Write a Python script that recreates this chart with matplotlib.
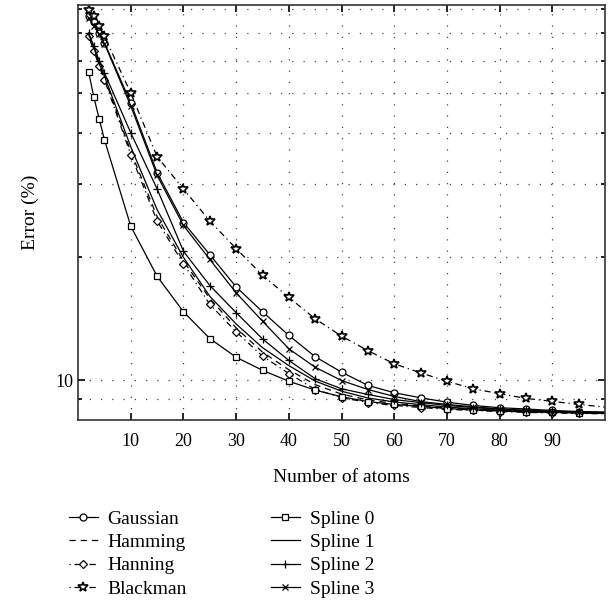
import matplotlib.pyplot as plt
from matplotlib.ticker import FixedLocator, NullFormatter, FixedFormatter

plt.rcParams['font.family'] = ['Liberation Serif', 'DejaVu Serif']

atoms = [2, 3, 4, 5, 10, 15, 20, 25, 30, 35, 40, 45, 50, 55, 60, 65, 70, 75, 80, 85, 90, 95, 100]

gaussian = [76.9, 74.4, 70.0, 66.3, 47.3, 32.0, 24.2, 20.2, 16.86, 14.67, 12.85, 11.40,
            10.46, 9.71, 9.32, 9.06, 8.84, 8.68, 8.57, 8.51, 8.44, 8.39, 8.37]
hamming = [69, 64, 58.5, 54.5, 36, 25, 19.5, 15.8, 13.4, 11.7, 10.6, 9.75,
           9.25, 8.95, 8.78, 8.66, 8.56, 8.49, 8.43, 8.39, 8.36, 8.33, 8.31]
hanning = [68.7, 63.4, 58.1, 53.9, 35.4, 24.4, 19.2, 15.29, 13.11, 11.44, 10.38, 9.49,
           9.07, 8.82, 8.68, 8.58, 8.49, 8.44, 8.39, 8.35, 8.32, 8.30, 8.28]
blackman = [79.8, 76.9, 72.7, 68.7, 50.0, 35.0, 29.2, 24.4, 20.9, 18.0, 15.9, 14.1,
            12.8, 11.8, 10.96, 10.42, 9.94, 9.53, 9.27, 9.03, 8.88, 8.73, 8.60]
spline0 = [56.3, 48.8, 43.3, 38.5, 23.7, 17.9, 14.67, 12.63, 11.37, 10.57, 9.94, 9.46,
           9.11, 8.87, 8.73, 8.63, 8.53, 8.46, 8.41, 8.37, 8.35, 8.32, 8.30]
spline1 = [69.5, 64.5, 59, 55, 37, 26, 19.9, 16.0, 13.7, 12.0, 10.85, 9.95,
           9.4, 9.05, 8.85, 8.72, 8.6, 8.52, 8.45, 8.40, 8.36, 8.33, 8.31]
spline2 = [70, 65, 60, 56, 40.0, 29.2, 20.6, 17.0, 14.6, 12.6, 11.17, 10.08,
           9.53, 9.23, 8.97, 8.82, 8.68, 8.58, 8.50, 8.44, 8.40, 8.36, 8.33]
spline3 = [76.0, 73.0, 69.5, 66.0, 46.5, 31.5, 23.8, 19.67, 16.31, 13.92, 11.92, 10.75,
           9.98, 9.49, 9.13, 8.87, 8.73, 8.61, 8.51, 8.44, 8.39, 8.35, 8.32]

x_ticks = [10, 20, 30, 40, 50, 60, 70, 80, 90]
y_grid = [9, 10, 20, 30, 40, 50, 60, 70, 80]

fig = plt.figure(figsize=(6.1, 6.0), dpi=100)
ax = fig.add_axes([0.128, 0.30, 0.864, 0.692])

lw = 0.9
dashdot = (0, (1, 3, 5, 3))
# no marker on the last point (it sits on the right frame)
every = slice(0, len(atoms) - 1)

ax.plot(atoms, gaussian, color='black', lw=lw, marker='o', ms=5, mfc='white', mew=0.9,
        markevery=every, label='Gaussian')
ax.plot(atoms, hamming, color='black', lw=lw, ls=(0, (5, 4)), label='Hamming')
ax.plot(atoms, hanning, color='black', lw=lw, ls=dashdot, marker='D', ms=4, mfc='white', mew=0.9,
        markevery=every, label='Hanning')
ax.plot(atoms, blackman, color='black', lw=lw, ls=dashdot, marker='*', ms=7.5, mfc='white', mew=1.2,
        markevery=every, label='Blackman')
ax.plot(atoms, spline0, color='black', lw=lw, marker='s', ms=4, mfc='white', mew=0.9,
        markevery=every, label='Spline 0')
ax.plot(atoms, spline1, color='black', lw=lw, label='Spline 1')
ax.plot(atoms, spline2, color='black', lw=lw, marker='+', ms=6, mew=0.9,
        markevery=every, label='Spline 2')
ax.plot(atoms, spline3, color='black', lw=lw, marker='x', ms=4.5, mew=0.9,
        markevery=every, label='Spline 3')

ax.set_yscale('log')
ax.set_xlim(0, 100)
ax.set_ylim(8.0, 82)

ax.xaxis.set_major_locator(FixedLocator(x_ticks))
ax.yaxis.set_major_locator(FixedLocator([10]))
ax.yaxis.set_major_formatter(FixedFormatter(['10']))
ax.yaxis.set_minor_locator(FixedLocator([v for v in y_grid if v != 10]))
ax.yaxis.set_minor_formatter(NullFormatter())

ax.tick_params(which='both', direction='in', top=True, right=True, labelsize=13, width=1.2)
ax.tick_params(which='major', length=5)
ax.tick_params(which='minor', length=3)
ax.tick_params(axis='x', pad=9)

grid_style = dict(color='#444444', linestyle=(0, (1, 8)), linewidth=0.9)
ax.grid(True, axis='x', which='major', **grid_style)
ax.grid(True, axis='y', which='both', **grid_style)

for sp in ax.spines.values():
    sp.set_linewidth(1.2)
    sp.set_color('#333333')

ax.set_xlabel('Number of atoms', fontsize=14, labelpad=14)
ax.set_ylabel('Error (%)', fontsize=14, labelpad=12)

fig.legend(loc='upper left', bbox_to_anchor=(0.1, 0.163), ncol=2, frameon=False,
           fontsize=14, handlelength=1.5, handletextpad=0.5, columnspacing=4.3,
           labelspacing=0.3, borderaxespad=0)

fig.savefig('out.png', dpi=100)
